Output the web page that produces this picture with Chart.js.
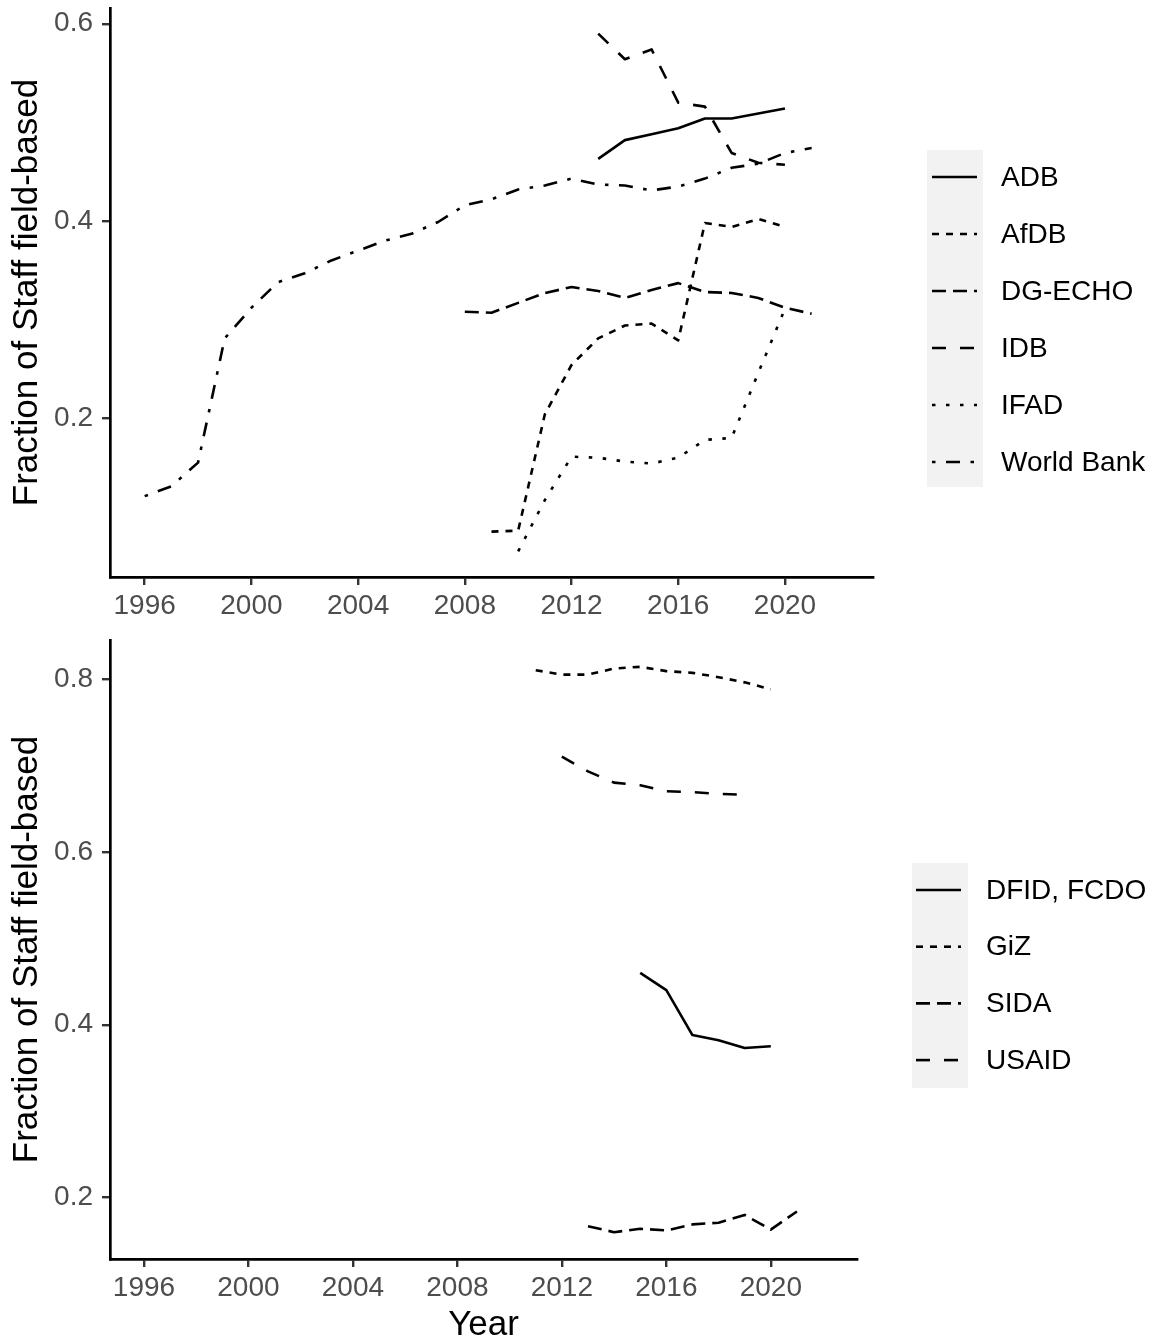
<!DOCTYPE html>
<html>
<head>
<meta charset="utf-8">
<title>Fraction of Staff field-based</title>
<script src="https://cdn.jsdelivr.net/npm/chart.js@4.4.1/dist/chart.umd.min.js"></script>
<style>
  html, body { margin: 0; padding: 0; background: #fff; }
  #wrap { position: relative; width: 1156px; height: 1343px; }
  .panel { position: absolute; left: 0; width: 1156px; }
  #panel-top { top: 0; height: 630px; }
  #panel-bot { top: 630px; height: 713px; }
</style>
</head>
<body>
<div id="wrap">
  <div class="panel" id="panel-top"><canvas id="chart-top"></canvas></div>
  <div class="panel" id="panel-bot"><canvas id="chart-bot"></canvas></div>
</div>
<script>
// ── Data: multilateral agencies (top panel) ─────────────────────────────────
var adbYears = [2013, 2014, 2015, 2016, 2017, 2018, 2019, 2020];
var adbVals = [0.463, 0.482, 0.488, 0.494, 0.504, 0.504, 0.509, 0.514];

var afdbYears = [2009, 2010, 2011, 2012, 2013, 2014, 2015, 2016, 2017, 2018, 2019, 2020];
var afdbVals = [0.085, 0.086, 0.204, 0.254, 0.281, 0.294, 0.296, 0.279, 0.398, 0.394, 0.402, 0.394];

var dgechoYears = [2008, 2009, 2010, 2011, 2012, 2013, 2014, 2015, 2016, 2017, 2018, 2019, 2020, 2021];
var dgechoVals = [0.308, 0.307, 0.317, 0.327, 0.333, 0.329, 0.322, 0.330, 0.337, 0.328, 0.327, 0.322, 0.312, 0.306];

var idbYears = [2013, 2014, 2015, 2016, 2017, 2018, 2019, 2020];
var idbVals = [0.590, 0.564, 0.574, 0.520, 0.516, 0.469, 0.459, 0.457];

var ifadYears = [2010, 2011, 2012, 2013, 2014, 2015, 2016, 2017, 2018, 2019, 2020];
var ifadVals = [0.065, 0.117, 0.161, 0.160, 0.156, 0.154, 0.160, 0.178, 0.180, 0.246, 0.311];

var wbYears = [1996, 1997, 1998, 1999, 2000, 2001, 2002, 2003, 2004, 2005, 2006, 2007, 2008,
	2009, 2010, 2011, 2012, 2013, 2014, 2015, 2016, 2017, 2018, 2019, 2020, 2021];
var wbVals = [0.121, 0.131, 0.155, 0.281, 0.312, 0.338, 0.347, 0.360, 0.370, 0.380, 0.387, 0.399, 0.416,
	0.422, 0.432, 0.436, 0.443, 0.437, 0.436, 0.431, 0.435, 0.443, 0.454, 0.458, 0.469, 0.474];

// ── Data: bilateral agencies (bottom panel) ─────────────────────────────────
var dfidYears = [2015, 2016, 2017, 2018, 2019, 2020];
var dfidVals = [0.460, 0.440, 0.388, 0.382, 0.373, 0.375];

var gizYears = [2011, 2012, 2013, 2014, 2015, 2016, 2017, 2018, 2019, 2020];
var gizVals = [0.810, 0.805, 0.805, 0.812, 0.814, 0.809, 0.807, 0.802, 0.796, 0.788];

var sidaYears = [2013, 2014, 2015, 2016, 2017, 2018, 2019, 2020, 2021];
var sidaVals = [0.167, 0.160, 0.164, 0.162, 0.169, 0.171, 0.180, 0.163, 0.184];

var usaidYears = [2012, 2013, 2014, 2015, 2016, 2017, 2018, 2019];
var usaidVals = [0.710, 0.693, 0.680, 0.677, 0.670, 0.669, 0.667, 0.666];

// ── Tick labels ─────────────────────────────────────────────────────────────
var yearTicks = [1996, 2000, 2004, 2008, 2012, 2016, 2020];
var topYTicks = [0.2, 0.4, 0.6];
var botYTicks = [0.2, 0.4, 0.6, 0.8];

// ggplot linetypes (solid, 22, 42, 44, 13, 1343), unit = 3.5px
var U = 3.5;
var DASH = {
	solid: [],
	"22": [2 * U, 2 * U],
	"42": [4 * U, 2 * U],
	"44": [4 * U, 4 * U],
	"13": [1 * U, 3 * U],
	"1343": [1 * U, 3 * U, 4 * U, 3 * U],
};

var FONT = "'Liberation Sans', Arial, Helvetica, sans-serif";
var LINE_W = 2.6;

function series(label, years, vals, dash) {
	return {
		label: label,
		data: years.map(function (x, i) { return { x: x, y: vals[i] }; }),
		borderColor: "#000",
		borderWidth: LINE_W,
		borderDash: dash,
		borderCapStyle: "butt",
		borderJoinStyle: "round",
		pointRadius: 0,
		pointHoverRadius: 0,
		fill: false,
		tension: 0,
	};
}

// ── ggplot-ish legend drawn on the canvas ───────────────────────────────────
var ggLegend = {
	id: "ggLegend",
	afterDraw: function (chart, args, o) {
		var ctx = chart.ctx;
		var ds = chart.data.datasets;
		ctx.save();
		ctx.fillStyle = "#F2F2F2";
		ctx.fillRect(o.boxX, o.boxY, o.boxW, o.boxH);
		ds.forEach(function (d, i) {
			var cy = o.firstY + i * o.rowH;
			ctx.beginPath();
			ctx.setLineDash(d.borderDash || []);
			ctx.lineDashOffset = 0;
			ctx.lineCap = "butt";
			ctx.lineWidth = LINE_W;
			ctx.strokeStyle = "#000";
			ctx.moveTo(o.lineX0, cy);
			ctx.lineTo(o.lineX1, cy);
			ctx.stroke();
			ctx.setLineDash([]);
			ctx.fillStyle = "#000";
			ctx.font = "28px " + FONT;
			ctx.textBaseline = "middle";
			ctx.textAlign = "left";
			ctx.fillText(d.label, o.textX, cy + 1);
		});
		ctx.restore();
	},
};

function make_chart(canvasId, datasets, cfg) {
	return new Chart(document.getElementById(canvasId), {
		type: "line",
		data: { datasets: datasets },
		plugins: [ggLegend],
		options: {
			responsive: true,
			maintainAspectRatio: false,
			animation: false,
			devicePixelRatio: 1,
			layout: { padding: cfg.padding },
			plugins: {
				legend: { display: false },
				tooltip: { enabled: false },
				ggLegend: cfg.legend,
			},
			scales: {
				x: {
					type: "linear",
					min: 1994.7,
					max: 2023.3,
					afterBuildTicks: function (s) {
						s.ticks = yearTicks.map(function (v) { return { value: v }; });
					},
					afterFit: function (s) {
						s.height = cfg.xHeight;
						s.paddingLeft = 0;
						s.paddingRight = 0;
					},
					ticks: {
						font: { family: FONT, size: 28 },
						color: "#4D4D4D",
						padding: 4,
						maxRotation: 0,
						autoSkip: false,
						callback: function (v) { return String(v); },
					},
					grid: {
						display: true,
						drawOnChartArea: false,
						drawTicks: true,
						tickLength: 8,
						color: "#333333",
						lineWidth: 2.4,
					},
					border: { display: true, color: "#000", width: 2.7 },
					title: {
						display: !!cfg.xTitle,
						text: cfg.xTitle || "",
						font: { family: FONT, size: 35, lineHeight: 1.0 },
						color: "#000",
						padding: { top: 0, bottom: 0 },
					},
				},
				y: {
					type: "linear",
					min: cfg.yMin,
					max: cfg.yMax,
					afterBuildTicks: function (s) {
						s.ticks = cfg.yTicks.map(function (v) { return { value: v }; });
					},
					afterFit: function (s) {
						s.width = 110;
						s.paddingTop = 0;
						s.paddingBottom = 0;
					},
					ticks: {
						font: { family: FONT, size: 28 },
						color: "#4D4D4D",
						padding: 9,
						callback: function (v) { return v.toFixed(1); },
					},
					grid: {
						display: true,
						drawOnChartArea: false,
						drawTicks: true,
						tickLength: 8,
						color: "#333333",
						lineWidth: 2.4,
					},
					border: { display: true, color: "#000", width: 2.7 },
					title: {
						display: true,
						text: "Fraction of Staff field-based",
						font: { family: FONT, size: 35 },
						color: "#000",
						padding: { top: 6, bottom: 0 },
					},
				},
			},
		},
	});
}

make_chart("chart-top", [
	series("ADB", adbYears, adbVals, DASH.solid),
	series("AfDB", afdbYears, afdbVals, DASH["22"]),
	series("DG-ECHO", dgechoYears, dgechoVals, DASH["42"]),
	series("IDB", idbYears, idbVals, DASH["44"]),
	series("IFAD", ifadYears, ifadVals, DASH["13"]),
	series("World Bank", wbYears, wbVals, DASH["1343"]),
], {
	padding: { top: 8, right: 283, bottom: 0, left: 0 },
	xHeight: 53,
	yMin: 0.039,
	yMax: 0.616,
	yTicks: topYTicks,
	legend: { boxX: 927, boxY: 150, boxW: 56, boxH: 337, firstY: 177, rowH: 57, lineX0: 932, lineX1: 977, textX: 1001 },
});

make_chart("chart-bot", [
	series("DFID, FCDO", dfidYears, dfidVals, DASH.solid),
	series("GiZ", gizYears, gizVals, DASH["22"]),
	series("SIDA", sidaYears, sidaVals, DASH["42"]),
	series("USAID", usaidYears, usaidVals, DASH["44"]),
], {
	padding: { top: 10, right: 299, bottom: 0, left: 0 },
	xHeight: 84,
	xTitle: "Year",
	yMin: 0.129,
	yMax: 0.845,
	yTicks: botYTicks,
	legend: { boxX: 912, boxY: 233, boxW: 56, boxH: 225, firstY: 260, rowH: 56.7, lineX0: 916, lineX1: 961, textX: 986 },
});
</script>
</body>
</html>
